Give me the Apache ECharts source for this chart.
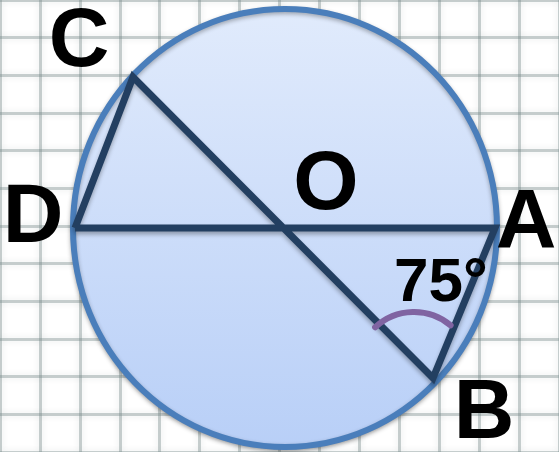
<!DOCTYPE html>
<html lang="en">
<head>
    <meta charset="UTF-8">
    <title>Circle O</title>
    <script src="https://cdn.jsdelivr.net/npm/echarts@6/dist/echarts.min.js"></script>
    <style>
        html, body { margin: 0; padding: 0; background: #ffffff; }
    </style>
</head>
<body>
    <div id="main" style="width: 559px; height: 452px;"></div>
    <script type="text/javascript">
        // points of the figure (picture units, y downward)
        var pointNames = ['A', 'B', 'C', 'D', 'O'];
        var pointX = [495, 433, 133, 75, 285];
        var pointY = [228, 378, 77, 228, 228];
        // circle round O
        var circleRadius = [212, 219];
        // D -> C -> B -> A -> D  (DA and CB are diameters)
        var chordPath = ['D', 'C', 'B', 'A', 'D'];
        // angle mark at B: centre x, centre y, radius, start deg, end deg
        var angleArc = [414, 369, 57, 227, 310];
        var angleText = '75°';

        function pt(name) {
            var i = pointNames.indexOf(name);
            return [pointX[i], pointY[i]];
        }

        var labelOffset = {
            A: [31, -3],
            B: [51, 37],
            C: [-54, -34],
            D: [-42, -9],
            O: [41, -42]
        };

        var font = "'Liberation Sans', Arial, sans-serif";
        var lineColor = '#233f61';
        var gridLine = {
            show: true,
            lineStyle: { color: 'rgba(115,135,135,0.38)', width: 3, shadowBlur: 6, shadowColor: 'rgba(115,135,135,0.45)' }
        };
        var textLabel = {
            show: true,
            position: 'inside',
            formatter: '{b}',
            color: '#000000',
            textBorderWidth: 0,
            fontFamily: font,
            fontWeight: 'bold'
        };

        var mychart = echarts.init(document.getElementById('main'));
        var option = {
            animation: false,
            grid: [
                { left: 0, top: 0, right: 0, bottom: 0 },
                { left: -15, top: -25, width: 588, height: 516 }
            ],
            xAxis: [
                { type: 'value', gridIndex: 0, min: 0, max: 559, show: false },
                {
                    type: 'value', gridIndex: 1, min: 0, max: 14, interval: 1,
                    axisLine: { show: false }, axisTick: { show: false }, axisLabel: { show: false },
                    splitLine: gridLine
                }
            ],
            yAxis: [
                { type: 'value', gridIndex: 0, min: 0, max: 452, inverse: true, show: false },
                {
                    type: 'value', gridIndex: 1, min: 0, max: 12, interval: 1,
                    axisLine: { show: false }, axisTick: { show: false }, axisLabel: { show: false },
                    splitLine: gridLine
                }
            ],
            series: [
                {
                    // the circle
                    type: 'custom',
                    xAxisIndex: 0, yAxisIndex: 0,
                    data: [[pt('O')[0], pt('O')[1], circleRadius[0], circleRadius[1]]],
                    renderItem: function (params, api) {
                        var c = api.coord([api.value(0), api.value(1)]);
                        var s = api.size([api.value(2), api.value(3)]);
                        return {
                            type: 'ellipse',
                            shape: { cx: c[0], cy: c[1], rx: s[0], ry: s[1] },
                            style: {
                                fill: new echarts.graphic.LinearGradient(0, 0, 0, 1, [
                                    { offset: 0, color: '#e1ebfc' },
                                    { offset: 1, color: '#b8cff7' }
                                ]),
                                stroke: '#4a7ebb',
                                lineWidth: 6,
                                shadowBlur: 4,
                                shadowOffsetY: 2,
                                shadowColor: 'rgba(0,0,0,0.3)'
                            }
                        };
                    }
                },
                {
                    // chords
                    type: 'custom',
                    xAxisIndex: 0, yAxisIndex: 0,
                    data: chordPath.map(pt),
                    renderItem: function (params, api) {
                        if (params.dataIndex !== 0) return null;
                        var points = chordPath.map(function (n) { return api.coord(pt(n)); });
                        return {
                            type: 'polyline',
                            shape: { points: points },
                            style: {
                                fill: null,
                                stroke: lineColor,
                                lineWidth: 7,
                                lineJoin: 'miter',
                                shadowBlur: 4,
                                shadowOffsetY: 3,
                                shadowColor: 'rgba(0,0,0,0.3)'
                            }
                        };
                    }
                },
                {
                    // angle mark
                    type: 'custom',
                    xAxisIndex: 0, yAxisIndex: 0,
                    data: [angleArc],
                    renderItem: function (params, api) {
                        var c = api.coord([api.value(0), api.value(1)]);
                        var r = api.size([api.value(2), api.value(2)])[0];
                        return {
                            type: 'arc',
                            shape: {
                                cx: c[0], cy: c[1], r: r,
                                startAngle: api.value(3) * Math.PI / 180,
                                endAngle: api.value(4) * Math.PI / 180,
                                clockwise: true
                            },
                            style: { fill: null, stroke: '#8064a2', lineWidth: 6, lineCap: 'round' }
                        };
                    }
                },
                {
                    // point labels
                    type: 'scatter',
                    xAxisIndex: 0, yAxisIndex: 0,
                    symbolSize: 0,
                    itemStyle: { opacity: 1 },
                    data: pointNames.map(function (n) {
                        return {
                            name: n,
                            value: pt(n),
                            label: { offset: labelOffset[n] }
                        };
                    }),
                    label: Object.assign({ fontSize: 84 }, textLabel)
                },
                {
                    // angle value
                    type: 'scatter',
                    xAxisIndex: 0, yAxisIndex: 0,
                    symbolSize: 0,
                    itemStyle: { opacity: 1 },
                    data: [{ name: angleText, value: pt('B'), label: { offset: [8, -94] } }],
                    label: Object.assign({ fontSize: 62 }, textLabel)
                }
            ]
        };
        mychart.setOption(option);
    </script>
</body>
</html>
